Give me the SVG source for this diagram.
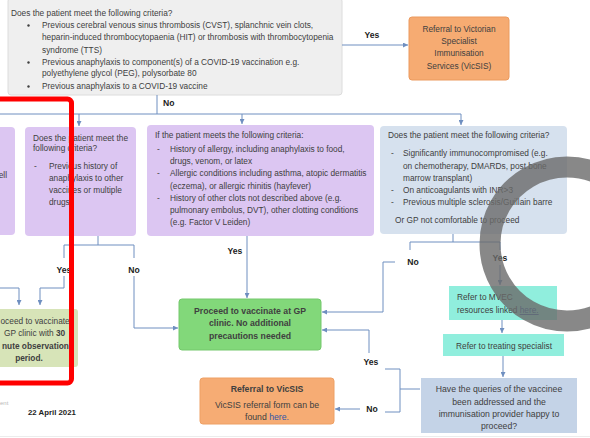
<svg xmlns="http://www.w3.org/2000/svg" width="590" height="438" viewBox="0 0 590 438">
<defs>
<marker id="ah" viewBox="0 0 6 6" refX="6" refY="3" markerWidth="5" markerHeight="5" orient="auto" markerUnits="userSpaceOnUse">
<path d="M0,0 L6,3 L0,6 z" fill="#6f8fc0"/>
</marker>
<style>
text{font-family:"Liberation Sans",Arial,sans-serif;font-size:8.3px;fill:#404040}
.b{font-weight:bold}
.c{text-anchor:middle}
.e{text-anchor:end}
.lbl{font-weight:bold;font-size:8.6px;fill:#222}
.g{font-size:8.7px}
.con path{fill:none;stroke:#6f8fc0;stroke-width:1}
.arr{marker-end:url(#ah)}
.lnk{fill:#2f56a8}
</style>
</defs>
<rect width="590" height="438" fill="#ffffff"/>
<line x1="0" y1="436.5" x2="590" y2="436.5" stroke="#ececec" stroke-width="1"/>

<g id="q1">
<rect x="8" y="-2" width="334" height="97" rx="3" fill="#efefef" stroke="#dcdcdc"/>
<text x="11" y="16">Does the patient meet the following criteria?</text>
<circle cx="28.5" cy="25.5" r="1.2" fill="#404040"/>
<circle cx="28.5" cy="62.5" r="1.2" fill="#404040"/>
<circle cx="28.5" cy="86.5" r="1.2" fill="#404040"/>
<text x="42" y="28">Previous cerebral venous sinus thrombosis (CVST), splanchnic vein clots,</text>
<text x="42" y="40">heparin-induced thrombocytopaenia (HIT) or thrombosis with thrombocytopenia</text>
<text x="42" y="53">syndrome (TTS)</text>
<text x="42" y="65">Previous anaphylaxis to component(s) of a COVID-19 vaccination e.g.</text>
<text x="42" y="76">polyethylene glycol (PEG), polysorbate 80</text>
<text x="42" y="89">Previous anaphylaxis to a COVID-19 vaccine</text>
</g>

<g id="vicsis1">
<rect x="409" y="17" width="100" height="63" rx="3" fill="#f6ab72" stroke="#eb9a5e"/>
<text class="c" x="459" y="32">Referral to Victorian</text>
<text class="c" x="459" y="44">Specialist</text>
<text class="c" x="459" y="56">Immunisation</text>
<text class="c" x="459" y="69">Services (VicSIS)</text>
</g>

<g id="p0">
<rect x="-20" y="127" width="35" height="108" rx="4" fill="#dcc6f2"/>
<text class="e" x="7" y="178">ell</text>
</g>

<g id="p1">
<rect x="25" y="127" width="111" height="109" rx="4" fill="#dcc6f2"/>
<text x="33" y="141">Does the patient meet the</text>
<text x="33" y="151">following criteria?</text>
<text x="34" y="169">-</text>
<text x="49" y="169">Previous history of</text>
<text x="49" y="181">anaphylaxis to other</text>
<text x="49" y="193">vaccines or multiple</text>
<text x="49" y="205">drugs</text>
</g>

<g id="p2">
<rect x="147" y="125" width="227" height="111" rx="4" fill="#dcc6f2"/>
<text x="155" y="138">If the patient meets the following criteria:</text>
<text x="157" y="152">-</text>
<text x="170" y="152">History of allergy, including anaphylaxis to food,</text>
<text x="170" y="164">drugs, venom, or latex</text>
<text x="157" y="176">-</text>
<text x="170" y="176">Allergic conditions including asthma, atopic dermatitis</text>
<text x="170" y="189">(eczema), or allergic rhinitis (hayfever)</text>
<text x="157" y="201">-</text>
<text x="170" y="201">History of other clots not described above (e.g.</text>
<text x="170" y="213">pulmonary embolus, DVT), other clotting conditions</text>
<text x="170" y="225">(e.g. Factor V Leiden)</text>
</g>

<g id="q4">
<rect x="380" y="126" width="187" height="108" rx="4" fill="#d6e1ee"/>
<text x="388" y="138">Does the patient meet the following criteria?</text>
<text x="391" y="156">-</text>
<text x="403" y="156">Significantly immunocompromised (e.g.</text>
<text x="403" y="169">on chemotherapy, DMARDs, post bone</text>
<text x="403" y="181">marrow transplant)</text>
<text x="391" y="193">-</text>
<text x="403" y="193">On anticoagulants with INR&gt;3</text>
<text x="391" y="205">-</text>
<text x="403" y="205">Previous multiple sclerosis/Guillain barre</text>
<text x="395" y="223">Or GP not comfortable to proceed</text>
</g>

<g id="obs30">
<rect x="-20" y="309" width="98" height="58" rx="3" fill="#d7e4b8"/>
<text x="0.5" y="324">oceed to vaccinate</text>
<text x="4" y="336">GP clinic with <tspan class="b">30</tspan></text>
<text class="b" x="2" y="349">nute observation</text>
<text class="b c" x="29" y="361">period.</text>
</g>

<g id="green">
<rect x="179" y="299" width="142" height="51" rx="3" fill="#82d87a" stroke="#74c86c"/>
<text class="g b c" x="250" y="314" fill="#263a1e">Proceed to vaccinate at GP</text>
<text class="g b c" x="250" y="326">clinic. No additional</text>
<text class="g b c" x="250" y="339">precautions needed</text>
</g>

<g id="vicsis2">
<rect x="200" y="378" width="134" height="46" rx="3" fill="#f6ac74" stroke="#eea064"/>
<text class="g b c" x="267" y="392">Referral to VicSIS</text>
<text class="g c" x="267" y="408">VicSIS referral form can be</text>
<text class="g c" x="267" y="420">found <tspan class="lnk">here.</tspan></text>
</g>

<g id="mvec">
<rect x="449" y="286" width="108" height="34" fill="#90eedd"/>
<text x="457" y="300">Refer to MVEC</text>
<text x="457" y="313">resources linked <tspan class="lnk" text-decoration="underline">here.</tspan></text>
</g>

<g id="specialist">
<rect x="443" y="334" width="121" height="22" fill="#90eedd"/>
<text class="c" x="504" y="349">Refer to treating specialist</text>
</g>

<g id="queries">
<rect x="421" y="378" width="156" height="55" fill="#c4d3e7"/>
<text class="g c" x="499" y="392">Have the queries of the vaccinee</text>
<text class="g c" x="499" y="405">been addressed and the</text>
<text class="g c" x="499" y="417">immunisation provider happy to</text>
<text class="g c" x="499" y="429">proceed?</text>
</g>

<g id="connectors" class="con">
<path class="arr" d="M342,45 H408"/>
<path d="M157,95 V114"/>
<path d="M0,114 H461"/>
<path class="arr" d="M79,114 V126"/>
<path class="arr" d="M242,114 V124"/>
<path class="arr" d="M461,114 V125"/>
<path d="M98,236 V245 M64,258 V245 H134 V258"/>
<path class="arr" d="M64,276 V288 H40 V305"/>
<path class="arr" d="M0,288 H19 V305"/>
<path class="arr" d="M134,276 V328 H178"/>
<path class="arr" d="M247,236 V298"/>
<path d="M453,234 V242 M410,250 V242 H500 V250"/>
<path class="arr" d="M395,262 H383 V312 H322"/>
<path class="arr" d="M500,265 V285"/>
<path class="arr" d="M502,320 V333"/>
<path class="arr" d="M503,356 V377"/>
<path class="arr" d="M369,353 V330 H322"/>
<path d="M385,369 H400 V412 H385 M400,389 H420"/>
<path class="arr" d="M360,409 H335"/>
</g>

<g id="labels">
<text class="lbl c" x="372" y="38">Yes</text>
<text class="lbl" x="163" y="106">No</text>
<text class="lbl c" x="64" y="273">Yes</text>
<text class="lbl c" x="134" y="273">No</text>
<text class="lbl c" x="235" y="254">Yes</text>
<text class="lbl c" x="413" y="265">No</text>
<text class="lbl c" x="500" y="261">Yes</text>
<text class="lbl c" x="371" y="365">Yes</text>
<text class="lbl c" x="372" y="412">No</text>
</g>

<text class="b" x="28" y="415" style="font-size:7.8px;fill:#222">22 April 2021</text>
<text x="0" y="405" style="font-size:6px;fill:#b8b8b8">ent</text>

<path d="M605.5,177.3 A77,77 0 0 0 490,244 A77,77 0 0 0 605.5,310.7" fill="none" stroke="#6a6a6a" stroke-width="21" opacity="0.8"/>
<rect x="-10" y="99" width="81.5" height="284" rx="4" fill="none" stroke="#ff0000" stroke-width="5"/>
</svg>
